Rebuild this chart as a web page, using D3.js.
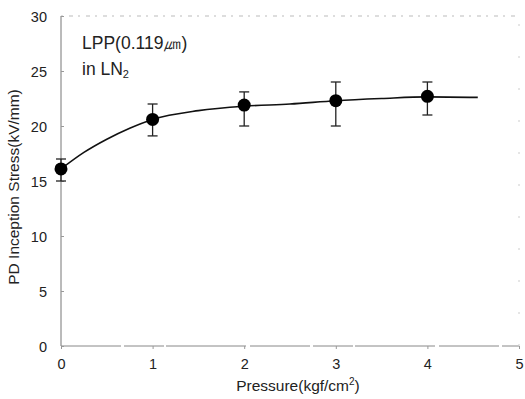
<!DOCTYPE html>
<html><head><meta charset="utf-8">
<script src="https://cdn.jsdelivr.net/npm/d3@7"></script>
<style>body{margin:0;background:#fff}svg{display:block}text{font-family:"Liberation Sans","Noto Sans",sans-serif;fill:#222}</style>
</head><body><svg id="c" width="525" height="399"></svg>
<script>
const pressure = [0, 1, 2, 3, 4];
const stress = [16.1, 20.6, 21.9, 22.3, 22.7];
const errLow = [15.0, 19.1, 20.0, 20.0, 21.0];
const errHigh = [17.0, 22.0, 23.1, 24.0, 24.0];
const fitX = [0, 0.25, 0.5, 0.75, 1, 1.5, 2, 2.5, 3, 3.5, 4, 4.55];
const fitY = [16.1, 17.6, 18.8, 19.8, 20.6, 21.4, 21.8, 22.0, 22.3, 22.5, 22.65, 22.6];
const xTicks = [0, 1, 2, 3, 4, 5];
const yTicks = [0, 5, 10, 15, 20, 25, 30];

const svg = d3.select("#c");
const x = d3.scaleLinear().domain([0, 5]).range([61, 519]);
const y = d3.scaleLinear().domain([0, 30]).range([346, 16]);

// frame
svg.append("line").attr("x1", x(0)).attr("x2", x(0)).attr("y1", y(0)).attr("y2", y(30)).attr("stroke", "#777").attr("stroke-width", 1);
svg.append("line").attr("x1", x(0)).attr("x2", x(5)).attr("y1", y(0)).attr("y2", y(0)).attr("stroke", "#888").attr("stroke-width", 1).attr("stroke-dasharray", "60,3,40,2,80,4");
svg.append("line").attr("x1", x(0)).attr("x2", x(5)).attr("y1", y(30)).attr("y2", y(30)).attr("stroke", "#bbb").attr("stroke-width", 1).attr("stroke-dasharray", "2,6,4,5");
svg.append("line").attr("x1", x(5)).attr("x2", x(5)).attr("y1", y(0)).attr("y2", y(30)).attr("stroke", "#ccc").attr("stroke-width", 1).attr("stroke-dasharray", "2,30");

// axes labels
const xa = svg.append("g").attr("transform", `translate(0,${y(0)})`).call(d3.axisBottom(x).tickValues(xTicks).tickSize(3).tickFormat(d3.format("d")));
const ya = svg.append("g").attr("transform", `translate(${x(0)},0)`).call(d3.axisLeft(y).tickValues(yTicks).tickSize(-3).tickFormat(d3.format("d")));
[xa, ya].forEach(g => { g.select(".domain").remove(); g.selectAll(".tick line").attr("stroke", "#999"); g.selectAll("text").attr("font-size", 14.5).attr("fill", "#222"); });
xa.selectAll("text").attr("dy", "1.15em");
ya.selectAll("text").attr("x", -14).attr("dy", "0.35em");

svg.append("text").attr("x", (x(0) + x(5)) / 2 + 8).attr("y", 391).attr("text-anchor", "middle").attr("font-size", 15.5)
  .html('Pressure(kgf/cm<tspan dy="-6" font-size="10">2</tspan><tspan dy="6">)</tspan>');
svg.append("text").attr("transform", `translate(19,${y(15) + 6}) rotate(-90)`).attr("text-anchor", "middle").attr("font-size", 15.5)
  .text("PD Inception Stress(kV/mm)");

// annotation
svg.append("text").attr("x", 82).attr("y", 49).attr("font-size", 17.5).text("LPP(0.119㎛)");
svg.append("text").attr("x", 82).attr("y", 75).attr("font-size", 17.5)
  .html('in LN<tspan dy="3" font-size="11">2</tspan>');

// fit curve
const line = d3.line().x((d, i) => x(fitX[i])).y(d => y(d)).curve(d3.curveMonotoneX);
svg.append("path").attr("d", line(fitY)).attr("fill", "none").attr("stroke", "#111").attr("stroke-width", 1.6);

// error bars
pressure.forEach((p, i) => {
  const g = svg.append("g").attr("stroke", "#222").attr("stroke-width", 1.3);
  g.append("line").attr("x1", x(p)).attr("x2", x(p)).attr("y1", y(errLow[i])).attr("y2", y(errHigh[i]));
  g.append("line").attr("x1", x(p) - 5).attr("x2", x(p) + 5).attr("y1", y(errLow[i])).attr("y2", y(errLow[i]));
  g.append("line").attr("x1", x(p) - 5).attr("x2", x(p) + 5).attr("y1", y(errHigh[i])).attr("y2", y(errHigh[i]));
});
svg.selectAll("circle.pt").data(stress).enter().append("circle").attr("class", "pt")
  .attr("cx", (d, i) => x(pressure[i])).attr("cy", d => y(d)).attr("r", 6.5).attr("fill", "#000");
</script></body></html>
